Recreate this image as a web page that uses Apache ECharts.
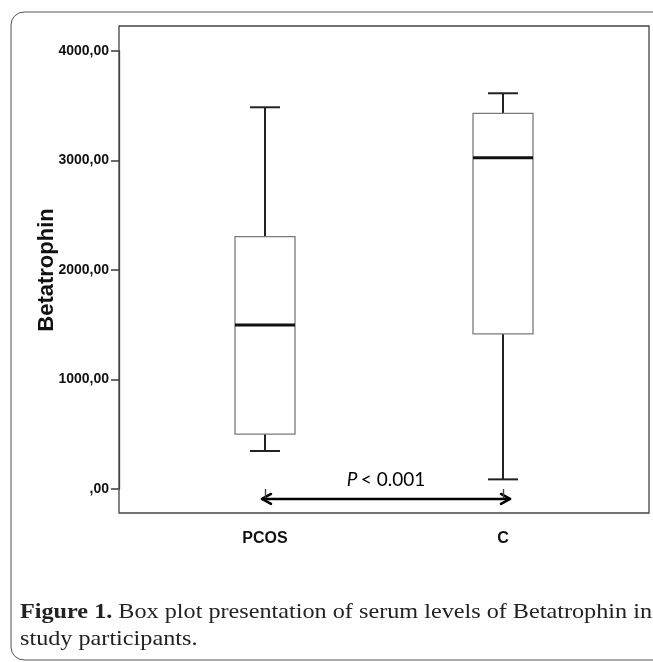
<!DOCTYPE html>
<html>
<head>
<meta charset="utf-8">
<script src="https://cdn.jsdelivr.net/npm/echarts@6/dist/echarts.min.js"></script>
<style>
html,body{margin:0;padding:0;background:#fff;}
#chart{width:653px;height:662px;}
</style>
</head>
<body>
<div id="chart"></div>
<script>
// ---- data ----
const categories = ['PCOS', 'C'];
const whiskerLow = [347, 88];
const q1 = [502, 1416];
const median = [1498, 3026];
const q3 = [2304, 3431];
const whiskerHigh = [3486, 3614];
const yTickValues = [0, 1000, 2000, 3000, 4000];
const yTickLabels = [',00', '1000,00', '2000,00', '3000,00', '4000,00'];
const yAxisTitle = 'Betatrophin';
const pValueText = '< 0.001';
const arrowLevel = -91;
const captionBold = 'Figure 1.';
const captionLine1 = ' Box plot presentation of serum levels of Betatrophin in';
const captionLine2 = 'study participants.';

const boxData = categories.map((c, i) => [i, whiskerLow[i], q1[i], median[i], q3[i], whiskerHigh[i]]);

const chart = echarts.init(document.getElementById('chart'), null, {renderer: 'canvas'});
const frameColor = '#444';

const option = {
  backgroundColor: '#fff',
  animation: false,
  grid: [
    {left: 119, top: 26, width: 530, height: 487, show: true, borderColor: frameColor, borderWidth: 1.3, backgroundColor: 'transparent', containLabel: false},
    {left: 146, top: 51, width: 476, height: 438, containLabel: false}
  ],
  xAxis: [
    {gridIndex: 0, type: 'value', show: false, min: 0, max: 1},
    {gridIndex: 1, type: 'category', data: categories, boundaryGap: true, offset: 24,
      axisLine: {show: false},
      axisTick: {show: true, alignWithLabel: true, length: 9, lineStyle: {color: frameColor, width: 1.4}},
      axisLabel: {margin: 18, color: '#111', fontFamily: 'Liberation Sans, Arial, sans-serif', fontWeight: 'bold', fontSize: 16}
    }
  ],
  yAxis: [
    {gridIndex: 0, type: 'value', show: false, min: 0, max: 1},
    {gridIndex: 1, type: 'value', min: 0, max: 4000, interval: 1000, offset: 27,
      splitLine: {show: false},
      axisLine: {show: true, lineStyle: {color: frameColor, width: 1.3}},
      axisTick: {show: true, length: 8, lineStyle: {color: frameColor, width: 1.6}},
      axisLabel: {margin: 10, color: '#111', fontFamily: 'Liberation Sans, Arial, sans-serif', fontWeight: 'bold', fontSize: 14,
        formatter: v => { const k = yTickValues.indexOf(v); return k >= 0 ? yTickLabels[k] : ''; }},
      name: yAxisTitle, nameLocation: 'middle', nameGap: 61, nameRotate: 90, nameMoveOverlap: false,
      nameTextStyle: {color: '#111', fontFamily: 'Liberation Sans, Arial, sans-serif', fontWeight: 'bold', fontSize: 22}
    }
  ],
  series: [{
    type: 'custom',
    xAxisIndex: 1, yAxisIndex: 1,
    data: boxData,
    encode: {x: 0, y: [1, 2, 3, 4, 5]},
    renderItem: function (params, api) {
      const idx = api.value(0);
      const pLow = api.coord([idx, api.value(1)]);
      const pQ1 = api.coord([idx, api.value(2)]);
      const pMed = api.coord([idx, api.value(3)]);
      const pQ3 = api.coord([idx, api.value(4)]);
      const pHigh = api.coord([idx, api.value(5)]);
      const cx = pQ1[0];
      const hw = 30, cw = 15;
      const whisk = {stroke: '#222', lineWidth: 2};
      return {
        type: 'group',
        children: [
          {type: 'line', shape: {x1: cx, y1: pQ3[1], x2: cx, y2: pHigh[1]}, style: whisk},
          {type: 'line', shape: {x1: cx, y1: pQ1[1], x2: cx, y2: pLow[1]}, style: whisk},
          {type: 'line', shape: {x1: cx - cw, y1: pHigh[1], x2: cx + cw, y2: pHigh[1]}, style: whisk},
          {type: 'line', shape: {x1: cx - cw, y1: pLow[1], x2: cx + cw, y2: pLow[1]}, style: whisk},
          {type: 'rect', shape: {x: cx - hw, y: pQ3[1], width: hw * 2, height: pQ1[1] - pQ3[1]},
            style: {fill: '#fff', stroke: '#7a7a7a', lineWidth: 1.3}},
          {type: 'line', shape: {x1: cx - hw, y1: pMed[1], x2: cx + hw, y2: pMed[1]}, style: {stroke: '#111', lineWidth: 3}}
        ]
      };
    }
  }]
};
chart.setOption(option);

// annotation: arrow and p-value, positioned through the axes
const a = chart.convertToPixel({gridIndex: 1}, [0, arrowLevel]);
const b = chart.convertToPixel({gridIndex: 1}, [1, arrowLevel]);
const x1 = a[0] - 3, x2 = b[0] + 7, ay = a[1];
const mid = (x1 + x2) / 2;
const arrowStyle = {stroke: '#000', lineWidth: 2.5, fill: null, lineCap: 'round', lineJoin: 'round'};
chart.setOption({
  graphic: [
    {type: 'rect', shape: {x: 11, y: 12, width: 662, height: 648, r: 13}, style: {fill: null, stroke: '#555', lineWidth: 1}, silent: true},
    {type: 'line', shape: {x1: x1, y1: ay, x2: x2, y2: ay}, style: arrowStyle},
    {type: 'polyline', shape: {points: [[x1 + 9, ay - 5], [x1, ay], [x1 + 9, ay + 5]]}, style: arrowStyle},
    {type: 'polyline', shape: {points: [[x2 - 9, ay - 5], [x2, ay], [x2 - 9, ay + 5]]}, style: arrowStyle},
    {type: 'text', x: mid, y: ay - 19, style: {
      text: '{i|P} {n|' + pValueText + '}', align: 'center', verticalAlign: 'middle',
      rich: {
        i: {fontFamily: 'Lato, Open Sans, sans-serif', fontStyle: 'italic', fontSize: 19, fill: '#000'},
        n: {fontFamily: 'Lato, Open Sans, sans-serif', fontSize: 19, fill: '#000'}
      }
    }},
    {type: 'text', x: 20, y: 623, scaleX: 1.1, style: {
      text: '{b|' + captionBold + '}{r|' + captionLine1 + '}', verticalAlign: 'bottom',
      rich: {
        b: {fontFamily: 'Liberation Serif, Times New Roman, serif', fontWeight: 'bold', fontSize: 22, fill: '#222'},
        r: {fontFamily: 'Liberation Serif, Times New Roman, serif', fontSize: 22, fill: '#222'}
      }
    }},
    {type: 'text', x: 20, y: 650, scaleX: 1.1, style: {
      text: captionLine2, verticalAlign: 'bottom',
      fontFamily: 'Liberation Serif, Times New Roman, serif', fontSize: 22, fill: '#222'
    }}
  ]
});
</script>
</body>
</html>
